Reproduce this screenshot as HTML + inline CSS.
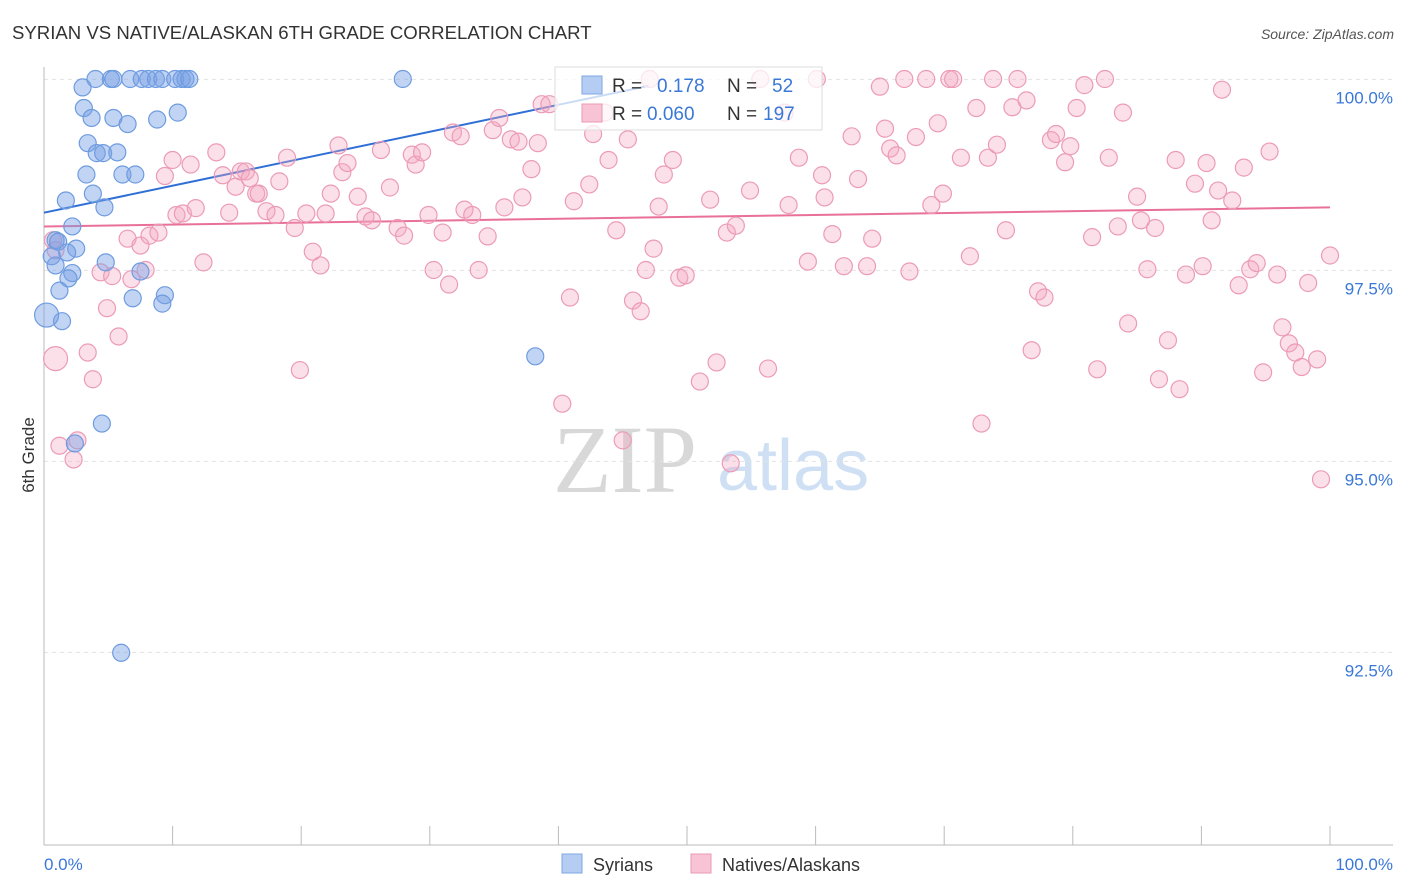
<!DOCTYPE html>
<html><head><meta charset="utf-8"><style>
body{margin:0;background:#fff;font-family:"Liberation Sans",sans-serif}
svg{display:block}
</style></head><body>
<svg id="chart" width="1406" height="892" xmlns="http://www.w3.org/2000/svg">
<text x="12" y="39" font-size="18.6" fill="#333">SYRIAN VS NATIVE/ALASKAN 6TH GRADE CORRELATION CHART</text>
<text x="1394" y="39" font-size="14" fill="#555" font-style="italic" text-anchor="end">Source: ZipAtlas.com</text>
<g>
<text x="553" y="492" font-family="Liberation Serif,serif" font-size="96" fill="#d8d8d8">ZIP</text>
<text x="717" y="490" font-size="72" fill="#cfe0f4">atlas</text>
</g>
<g id="grid"></g>
<g id="axes"></g>
<g id="trend"></g>
<g id="pts"></g>
<text transform="translate(34,455) rotate(-90)" font-size="17" fill="#333" text-anchor="middle">6th Grade</text>
<g>
<rect x="555" y="67" width="267" height="63" fill="#fff" fill-opacity="0.75" stroke="#ddd"/>
<rect x="582" y="76" width="20" height="18" fill="#b5cdf2" stroke="#7ea6e4"/>
<text x="612" y="92" font-size="19" fill="#333">R = </text><text x="657" y="92" font-size="19" fill="#3a78d8">0.178</text>
<text x="727" y="92" font-size="19" fill="#333">N = </text><text x="772" y="92" font-size="19" fill="#3a78d8">52</text>
<rect x="582" y="104" width="20" height="18" fill="#f8c3d4" stroke="#eb98b4"/>
<text x="612" y="120" font-size="19" fill="#333">R = </text><text x="647" y="120" font-size="19" fill="#3a78d8">0.060</text>
<text x="727" y="120" font-size="19" fill="#333">N = </text><text x="763" y="120" font-size="19" fill="#3a78d8">197</text>
</g>
<g>
<rect x="562" y="854" width="20" height="19" fill="#b5cdf2" stroke="#7ea6e4"/>
<text x="593" y="871" font-size="18" fill="#333">Syrians</text>
<rect x="691" y="854" width="20" height="19" fill="#f8c3d4" stroke="#eb98b4"/>
<text x="722" y="871" font-size="18" fill="#333">Natives/Alaskans</text>
</g>
<text x="44" y="870" font-size="17" fill="#3a78d8">0.0%</text>
<text x="1393" y="870" font-size="17" fill="#3a78d8" text-anchor="end">100.0%</text>
</svg>
<script>
const yTicks=[100,97.5,95,92.5];
const yTickLabels=["100.0%","97.5%","95.0%","92.5%"];
const xTicks=[0,10,20,30,40,50,60,70,80,90,100];
const syrians=[[4.0,100.24],[5.2,100.24],[5.4,100.24],[6.7,100.24],[7.6,100.24],[8.1,100.24],[8.7,100.24],[9.2,100.24],[10.2,100.24],[10.7,100.24],[11.0,100.24],[11.3,100.24],[27.9,100.24],[3.0,100.13],[3.1,99.86],[10.4,99.80],[3.7,99.73],[5.4,99.73],[6.5,99.65],[8.8,99.71],[3.4,99.40],[4.1,99.27],[4.6,99.27],[5.7,99.28],[3.3,98.99],[6.1,98.99],[7.1,98.99],[3.8,98.74],[1.7,98.65],[4.7,98.56],[2.2,98.31],[0.9,98.13],[1.1,98.11],[2.5,98.02],[1.8,97.97],[0.6,97.92],[0.9,97.80],[4.8,97.84],[2.2,97.70],[7.5,97.72],[1.9,97.63],[1.2,97.47],[9.4,97.41],[6.9,97.37],[9.2,97.30],[1.4,97.07],[0.2,97.15],[38.2,96.61],[4.5,95.73],[6.0,92.73],[2.4,95.47]];
const natives=[[0.9,96.58],[1.2,95.44],[2.3,95.26],[2.6,95.51],[3.4,96.66],[3.8,96.31],[0.9,98.00],[0.7,98.13],[4.4,97.71],[4.9,97.24],[5.3,97.66],[5.8,96.87],[6.5,98.15],[6.8,97.62],[7.5,98.06],[7.9,97.74],[8.2,98.19],[8.9,98.23],[9.4,98.97],[10.0,99.18],[10.3,98.46],[10.8,98.48],[11.4,99.12],[11.8,98.55],[12.4,97.84],[13.4,99.28],[13.9,98.98],[14.4,98.49],[14.9,98.83],[15.3,99.03],[15.7,99.03],[16.0,98.94],[16.5,98.74],[16.7,98.74],[17.3,98.51],[18.0,98.46],[18.3,98.90],[18.9,99.21],[19.5,98.29],[19.9,96.43],[20.4,98.48],[20.9,97.98],[21.5,97.80],[21.9,98.48],[22.3,98.74],[22.9,99.37],[23.2,99.02],[23.6,99.14],[24.4,98.70],[25.0,98.44],[25.5,98.39],[26.2,99.31],[26.9,98.82],[27.5,98.29],[28.0,98.19],[28.6,99.25],[28.9,99.12],[29.4,99.28],[29.9,98.46],[30.3,97.74],[31.0,98.23],[31.5,97.55],[31.8,99.54],[32.4,99.49],[32.7,98.53],[33.3,98.46],[33.8,97.74],[34.5,98.18],[34.9,99.57],[35.4,99.73],[35.8,98.56],[36.3,99.45],[36.9,99.42],[37.2,98.69],[37.9,99.06],[38.4,99.40],[38.7,99.91],[39.3,99.91],[40.3,95.99],[40.9,97.38],[41.2,98.64],[42.4,98.86],[42.7,99.52],[43.6,99.80],[43.9,99.18],[44.5,98.26],[45.0,95.51],[45.4,99.45],[45.8,97.34],[46.4,97.20],[46.8,97.74],[47.1,100.24],[47.4,98.02],[47.8,98.57],[48.2,98.99],[48.9,99.18],[49.4,97.64],[49.9,97.67],[51.0,96.28],[51.8,98.66],[52.3,96.53],[53.1,98.23],[53.4,95.21],[53.8,98.32],[54.9,98.78],[55.7,100.24],[56.3,96.45],[57.6,99.80],[57.9,98.59],[58.7,99.21],[59.4,97.85],[60.1,100.24],[60.5,98.98],[60.7,98.69],[61.3,98.21],[62.2,97.79],[62.8,99.49],[63.3,98.93],[64.0,97.79],[64.4,98.15],[65.0,100.14],[65.4,99.59],[65.8,99.33],[66.3,99.24],[66.9,100.24],[67.3,97.72],[67.8,99.48],[68.6,100.24],[69.0,98.59],[69.5,99.66],[69.9,98.74],[70.4,100.24],[70.7,100.24],[71.3,99.21],[72.0,97.92],[72.5,99.86],[72.9,95.73],[73.4,99.21],[73.8,100.24],[74.1,99.38],[74.8,98.26],[75.3,99.87],[75.7,100.24],[76.4,99.96],[76.8,96.69],[77.3,97.46],[77.8,97.38],[78.3,99.44],[78.7,99.52],[79.4,99.15],[79.8,99.36],[80.3,99.86],[80.9,100.16],[81.5,98.17],[81.9,96.44],[82.5,100.24],[82.8,99.21],[83.5,98.31],[83.9,99.80],[84.3,97.04],[85.0,98.70],[85.3,98.39],[85.8,97.75],[86.4,98.29],[86.7,96.31],[87.4,96.82],[88.0,99.18],[88.3,96.18],[88.8,97.68],[89.5,98.87],[90.1,97.79],[90.4,99.14],[90.8,98.39],[91.3,98.78],[91.6,100.10],[92.4,98.65],[92.9,97.54],[93.3,99.08],[93.8,97.75],[94.3,97.83],[94.8,96.40],[95.3,99.29],[95.9,97.68],[96.3,96.99],[96.8,96.78],[97.3,96.66],[97.8,96.47],[98.3,97.57],[99.0,96.57],[99.3,95.00],[100.0,97.93]];
const syrianTrend=[[0,98.49],[47,100.15]];
const nativeTrend=[[0,98.31],[100,98.56]];

const NS="http://www.w3.org/2000/svg";
const xS=v=>44+v*12.86;
const yS=v=>79+(100.24-v)*76.4;
function mk(tag,attrs,parent){const e=document.createElementNS(NS,tag);for(const k in attrs)e.setAttribute(k,attrs[k]);document.getElementById(parent).appendChild(e);return e;}
yTicks.forEach((t,i)=>{
  const gy=yS(t)-18;
  const l=mk('line',{x1:44,x2:1393,y1:gy,y2:gy,stroke:'#e3e3e3','stroke-dasharray':'4,4'},'grid');
  
  
  const tx=mk('text',{x:1393,y:gy+24,'font-size':17,fill:'#3a78d8','text-anchor':'end'},'grid');
  tx.textContent=yTickLabels[i];
  
  
});
const ax=mk('line',{x1:44,x2:1393,y1:845,y2:845,stroke:'#bbb'},'axes');


const ay=mk('line',{x1:44,x2:44,y1:67,y2:845,stroke:'#bbb'},'axes');


xTicks.forEach(t=>{
  const l=mk('line',{x1:xS(t),x2:xS(t),y1:826,y2:845,stroke:'#bbb'},'axes');
  
  
});
function pts(data,fill,stroke,name){
  data.forEach(d=>{
    const big=d[0]<1.0&&(d[1]===97.15||d[1]===96.58);
    const c=mk('circle',{cx:xS(d[0]),cy:yS(d[1]),r:big?12:8.5,fill:fill,stroke:stroke,'stroke-width':1.2},'pts');
    
    
  });
}
pts(natives,'rgba(244,165,193,0.35)','#ec9bb7','native-point');
pts(syrians,'rgba(120,160,228,0.45)','#6e9ce0','syrian-point');
const t1=mk('line',{x1:xS(syrianTrend[0][0]),y1:yS(syrianTrend[0][1]),x2:xS(syrianTrend[1][0]),y2:yS(syrianTrend[1][1]),stroke:'#2f6fd6','stroke-width':2},'trend');


const t2=mk('line',{x1:xS(nativeTrend[0][0]),y1:yS(nativeTrend[0][1]),x2:xS(nativeTrend[1][0]),y2:yS(nativeTrend[1][1]),stroke:'#e8709a','stroke-width':2},'trend');


</script>
</body></html>
